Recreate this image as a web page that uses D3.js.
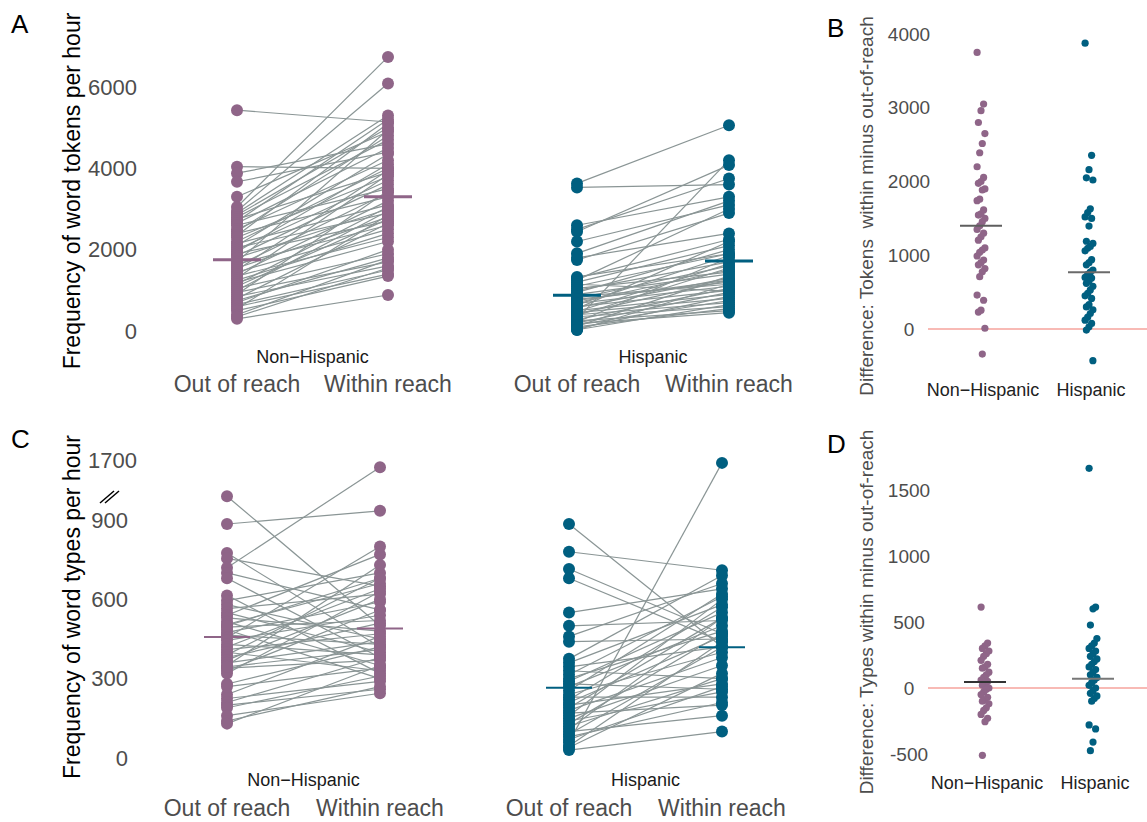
<!DOCTYPE html>
<html>
<head>
<meta charset="utf-8">
<script src="https://cdn.jsdelivr.net/npm/d3@7"></script>
<style>
  body { margin: 0; background: #fff; }
  svg { display: block; font-family: "Liberation Sans", Arial, sans-serif; }
</style>
</head>
<body>
<svg id="chart" width="1147" height="822"></svg>
<script>
/// DATA ///
const groups = ["Non\u2212Hispanic", "Hispanic"];
const conditions = ["Out of reach", "Within reach"];

// Word tokens per hour (paired: out of reach -> within reach)
const tokensOutNH = [5430, 4040, 3880, 3670, 3300, 3050, 2950, 2900, 2850, 2800, 2750, 2700, 2650, 2600, 2500, 2450, 2400, 2350, 2300, 2200, 2150, 2100, 2050, 2000, 1950, 1900, 1850, 1800, 1700, 1650, 1600, 1550, 1500, 1450, 1400, 1350, 1300, 1250, 1200, 1150, 1100, 1050, 1000, 950, 900, 850, 800, 750, 700, 650, 600, 550, 500, 400, 300, 350];
const tokensWithinNH = [5140, 4000, 4600, 4400, 4900, 6740, 6085, 5300, 5000, 4700, 3900, 5200, 4500, 3500, 4200, 4800, 3300, 5100, 3800, 4000, 3100, 4350, 2900, 3700, 4100, 2700, 3600, 3000, 4950, 2600, 3400, 2800, 3950, 2500, 3200, 2300, 3850, 2400, 2200, 3050, 2750, 1900, 2950, 1700, 3450, 1600, 2650, 1800, 2000, 1500, 1400, 2850, 1350, 1750, 885, 1550];
const tokensOutH = [3630, 3530, 2600, 2500, 2440, 2200, 1910, 1800, 1745, 1330, 1300, 1250, 1200, 1150, 1100, 1050, 1000, 950, 900, 850, 800, 780, 750, 700, 680, 650, 600, 580, 550, 500, 480, 450, 420, 400, 380, 350, 300, 280, 250, 220, 200, 180, 150, 120, 100, 60, 30, 25];
const tokensWithinH = [5060, 3600, 3300, 3750, 4080, 3100, 3200, 2400, 2900, 1900, 2250, 3000, 2100, 980, 1900, 1450, 1700, 2000, 1400, 1150, 1600, 1200, 1250, 1500, 1100, 1850, 1000, 1300, 2200, 900, 1650, 800, 1250, 700, 1550, 600, 4200, 1050, 500, 1800, 950, 450, 750, 1350, 550, 850, 650, 1150];
const tokensMeanNH = [1750, 3300];
const tokensMeanH = [880, 1720];
const tokensTicks = [0, 2000, 4000, 6000];

// Word types per hour (paired)
const typesOutNH = [990, 885, 775, 755, 720, 700, 680, 615, 595, 580, 565, 550, 540, 530, 515, 505, 495, 485, 475, 465, 455, 445, 430, 420, 410, 400, 390, 380, 370, 360, 350, 340, 330, 320, 280, 270, 240, 225, 210, 200, 190, 160, 140, 130, 345, 500];
const typesWithinNH = [500, 935, 420, 650, 1550, 560, 380, 320, 700, 450, 620, 400, 770, 480, 350, 660, 520, 300, 590, 430, 800, 540, 390, 640, 470, 330, 680, 510, 600, 440, 730, 370, 560, 630, 420, 340, 460, 290, 380, 260, 310, 245, 270, 350, 410, 680];
const typesOutH = [885, 780, 715, 680, 550, 500, 460, 440, 375, 360, 345, 330, 315, 300, 290, 280, 270, 255, 240, 230, 220, 210, 200, 190, 180, 170, 160, 150, 140, 130, 120, 110, 100, 90, 80, 70, 60, 45, 30, 40];
const typesWithinH = [420, 710, 470, 440, 640, 520, 660, 450, 690, 580, 420, 300, 610, 480, 550, 260, 500, 620, 400, 230, 570, 460, 280, 530, 380, 200, 600, 350, 250, 470, 300, 530, 160, 420, 210, 270, 1640, 440, 100, 320];
const typesMeanNH = [458, 490];
const typesMeanH = [266, 419];
const typesTicks = [0, 300, 600, 900, 1700];

// Differences: within minus out-of-reach
const tokensDiffNH = [3750, 3050, 2960, 2800, 2650, 2515, 2390, 2200, 2055, 2000, 1975, 1900, 1885, 1760, 1740, 1615, 1560, 1545, 1500, 1455, 1400, 1350, 1300, 1250, 1205, 1100, 1070, 1040, 990, 935, 900, 870, 820, 775, 710, 460, 390, 255, 230, 10, -340];
const tokensDiffH = [3875, 2355, 2160, 2050, 2020, 1630, 1580, 1520, 1500, 1395, 1190, 1160, 1120, 1095, 1060, 940, 900, 870, 800, 770, 740, 700, 690, 650, 620, 580, 530, 485, 450, 415, 330, 300, 260, 210, 160, 120, 75, 30, -15, -430];
const tokensDiffMean = [1400, 770];
const tokensDiffTicks = [0, 1000, 2000, 3000, 4000];

const typesDiffNH = [613, 340, 320, 300, 280, 260, 240, 210, 180, 160, 150, 120, 100, 80, 60, 50, 40, 20, 0, -10, -30, -50, -70, -90, -100, -120, -150, -170, -200, -230, -255, -510];
const typesDiffH = [1664, 613, 600, 477, 375, 340, 320, 300, 280, 260, 240, 220, 200, 180, 160, 140, 120, 100, 80, 60, 40, 20, 0, -20, -40, -60, -80, -100, -280, -310, -410, -475];
const typesDiffMean = [45, 70];
const typesDiffTicks = [-500, 0, 500, 1000, 1500];

/// SETTINGS ///
const svg = d3.select("#chart");
const purple = "#8f6588", teal = "#005f80", pairColor = "#8a9595";
const colors = [purple, teal];
const greyText = "#4d4d4d";
const plainNum = d => String(d); // no thousands separator, ascii hyphen

svg.append("rect").attr("width", 1147).attr("height", 822).attr("fill", "#fff");

// Paired dot + line panel (A, C)
function drawPaired({ outs, withins, means, y, ticks, tickX, facetX, stripY, condY, meanHalf, meanWidth }) {
    groups.forEach((grp, gi) => {
        const x = d3.scalePoint().domain(conditions).range(facetX[gi]);
        const g = svg.append("g");
        const pairs = outs[gi].map((v, i) => [v, withins[gi][i]]);

        g.selectAll(".pair").data(pairs).join("line")
            .attr("class", "pair")
            .attr("x1", x(conditions[0])).attr("x2", x(conditions[1]))
            .attr("y1", d => y(d[0])).attr("y2", d => y(d[1]))
            .attr("stroke", pairColor).attr("stroke-width", 1.2);

        const pts = outs[gi].map(v => [conditions[0], v])
            .concat(withins[gi].map(v => [conditions[1], v]));
        g.selectAll("circle").data(pts).join("circle")
            .attr("cx", d => x(d[0])).attr("cy", d => y(d[1]))
            .attr("r", 6).attr("fill", colors[gi]);

        // group means
        g.selectAll(".mean").data(means[gi]).join("line")
            .attr("class", "mean")
            .attr("x1", (d, i) => x(conditions[i]) - meanHalf)
            .attr("x2", (d, i) => x(conditions[i]) + meanHalf)
            .attr("y1", d => y(d)).attr("y2", d => y(d))
            .attr("stroke", colors[gi]).attr("stroke-width", meanWidth);

        // strip label + condition labels
        g.append("text").text(grp)
            .attr("x", (facetX[gi][0] + facetX[gi][1]) / 2).attr("y", stripY)
            .attr("dy", "0.35em").attr("text-anchor", "middle")
            .attr("font-size", 18).attr("fill", "#1a1a1a");
        g.selectAll(".cond").data(conditions).join("text")
            .attr("class", "cond")
            .text(d => d)
            .attr("x", d => x(d)).attr("y", condY)
            .attr("dy", "0.35em").attr("text-anchor", "middle")
            .attr("font-size", 23).attr("fill", greyText);
    });

    const axis = svg.append("g")
        .attr("transform", `translate(${tickX},0)`)
        .call(d3.axisLeft(y).tickValues(ticks).tickFormat(plainNum).tickSize(0).tickPadding(0));
    axis.select(".domain").remove();
    axis.selectAll("text")
        .attr("font-size", 22)
        .attr("font-family", "Liberation Sans, Arial, sans-serif")
        .attr("fill", greyText);
    return axis;
}

// Difference dot panel (B, D)
function drawDiff({ diffs, means, y, ticks, xRange, labelY, meanColors }) {
    const x = d3.scalePoint().domain(groups).range(xRange);
    const g = svg.append("g");

    g.append("line")
        .attr("x1", 928).attr("x2", 1147)
        .attr("y1", y(0)).attr("y2", y(0))
        .attr("stroke", "#f6a39c").attr("stroke-width", 1.5);

    groups.forEach((grp, gi) => {
        g.selectAll(`.d${gi}`).data(diffs[gi]).join("circle")
            .attr("class", `d${gi}`)
            .attr("cx", (d, i) => x(grp) + ((i * 5) % 7 - 3) * 1.3)
            .attr("cy", d => y(d))
            .attr("r", 3.6).attr("fill", colors[gi]);
    });

    g.selectAll(".dmean").data(means).join("line")
        .attr("class", "dmean")
        .attr("x1", (d, i) => x(groups[i]) - 21).attr("x2", (d, i) => x(groups[i]) + 21)
        .attr("y1", d => y(d)).attr("y2", d => y(d))
        .attr("stroke", (d, i) => meanColors[i]).attr("stroke-width", 2);

    g.selectAll(".glab").data(groups).join("text")
        .attr("class", "glab")
        .text(d => d)
        .attr("x", d => x(d) + 2).attr("y", labelY)
        .attr("dy", "0.35em").attr("text-anchor", "middle")
        .attr("font-size", 18).attr("fill", "#222");

    const axis = svg.append("g")
        .attr("transform", "translate(909,0)")
        .call(d3.axisLeft(y).tickValues(ticks).tickFormat(plainNum).tickSize(0).tickPadding(0));
    axis.select(".domain").remove();
    axis.selectAll("text")
        .attr("text-anchor", "middle")
        .attr("font-size", 19)
        .attr("font-family", "Liberation Sans, Arial, sans-serif")
        .attr("fill", greyText);
}

function yTitle(txt, x, y, size, color) {
    svg.append("text").text(txt)
        .attr("transform", `translate(${x},${y}) rotate(-90)`)
        .attr("dy", "0.35em").attr("text-anchor", "middle")
        .attr("font-size", size).attr("fill", color)
        .style("white-space", "pre");
}

function panelLetter(txt, x, y) {
    svg.append("text").text(txt).attr("x", x).attr("y", y)
        .attr("font-size", 26).attr("fill", "#000");
}

/// PANEL A ///
const yTokens = d3.scaleLinear().domain([0, 6000]).range([331, 87]);
drawPaired({
    outs: [tokensOutNH, tokensOutH], withins: [tokensWithinNH, tokensWithinH],
    means: [tokensMeanNH, tokensMeanH], y: yTokens, ticks: tokensTicks, tickX: 137,
    facetX: [[237, 388], [577, 729]], stripY: 357, condY: 384, meanHalf: 24, meanWidth: 3
});
yTitle("Frequency of word tokens per hour", 72, 191, 23, "#000");
panelLetter("A", 11, 33);

/// PANEL B ///
const yTokDiff = d3.scaleLinear().domain([0, 4000]).range([329, 34]);
drawDiff({
    diffs: [tokensDiffNH, tokensDiffH], means: tokensDiffMean, y: yTokDiff,
    ticks: tokensDiffTicks, xRange: [981, 1089], labelY: 390, meanColors: ["#5e5e5e", "#6a6a6a"]
});
yTitle("Difference: Tokens  within minus out-of-reach", 866, 206, 19, greyText);
panelLetter("B", 827, 37);

/// PANEL C ///
const yTypes = d3.scaleLinear().domain([0, 1000, 1700]).range([758, 493.6, 460]);
const axC = drawPaired({
    outs: [typesOutNH, typesOutH], withins: [typesWithinNH, typesWithinH],
    means: [typesMeanNH, typesMeanH], y: yTypes, ticks: typesTicks, tickX: 128,
    facetX: [[227, 380], [569, 722]], stripY: 780, condY: 808, meanHalf: 23, meanWidth: 2
});
axC.selectAll(".tick").filter(d => d === 1700).select("text").attr("x", 9);
// axis break mark
svg.selectAll(".brk").data([0, 5]).join("line")
    .attr("class", "brk")
    .attr("x1", d => 100 + d).attr("y1", 503)
    .attr("x2", d => 114 + d).attr("y2", 491)
    .attr("stroke", "#000").attr("stroke-width", 1.5);
yTitle("Frequency of word types per hour", 72, 607, 23, "#000");
panelLetter("C", 11, 448);

/// PANEL D ///
const yTypDiff = d3.scaleLinear().domain([-500, 1500]).range([754, 490]);
drawDiff({
    diffs: [typesDiffNH, typesDiffH], means: typesDiffMean, y: yTypDiff,
    ticks: typesDiffTicks, xRange: [985, 1093], labelY: 783, meanColors: ["#333", "#777"]
});
yTitle("Difference: Types within minus out-of-reach", 866, 612, 19, greyText);
panelLetter("D", 827, 453);
</script>
</body>
</html>
